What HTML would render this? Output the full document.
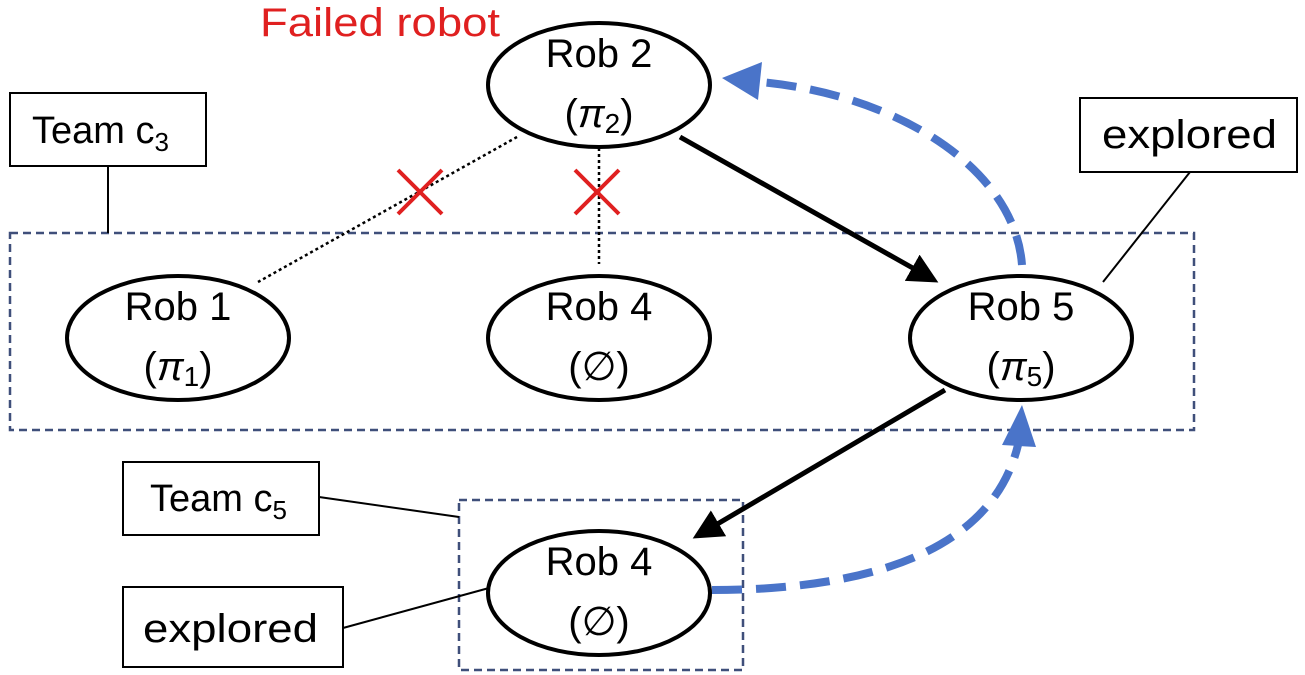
<!DOCTYPE html>
<html><head><meta charset="utf-8"><style>
html,body{margin:0;padding:0;background:#fff;}
svg{display:block;font-family:"Liberation Sans","DejaVu Sans",sans-serif;}
</style></head><body>
<svg width="1305" height="675" viewBox="0 0 1305 675" xmlns="http://www.w3.org/2000/svg">
<defs>
<marker id="ab" markerWidth="6" markerHeight="6" refX="5" refY="3" orient="auto" markerUnits="strokeWidth"><path d="M0,0 L6,3 L0,6 z" fill="#000"/></marker>
</defs>
<rect x="10" y="233" width="1184" height="197" fill="none" stroke="#3f4f7a" stroke-width="2.5" stroke-dasharray="8,5"/>
<rect x="459" y="500" width="284" height="170" fill="none" stroke="#3f4f7a" stroke-width="2.5" stroke-dasharray="8,5"/>
<rect x="10" y="93" width="196" height="73" fill="#fff" stroke="#000" stroke-width="2"/>
<text x="32" y="143" font-size="38">Team  c<tspan font-size="26" dy="8">3</tspan></text>
<line x1="108" y1="166" x2="108" y2="233" stroke="#000" stroke-width="2"/>
<rect x="1080" y="98" width="217" height="74" fill="#fff" stroke="#000" stroke-width="2"/>
<text x="1102" y="148" font-size="40" textLength="175" lengthAdjust="spacingAndGlyphs">explored</text>
<line x1="1190" y1="172" x2="1103" y2="282" stroke="#000" stroke-width="2"/>
<rect x="123" y="462" width="196" height="73" fill="#fff" stroke="#000" stroke-width="2"/>
<text x="150" y="511" font-size="38">Team c<tspan font-size="26" dy="8">5</tspan></text>
<line x1="319" y1="497" x2="459" y2="517" stroke="#000" stroke-width="2"/>
<rect x="123" y="587" width="220" height="80" fill="#fff" stroke="#000" stroke-width="2"/>
<text x="143" y="642" font-size="40" textLength="175" lengthAdjust="spacingAndGlyphs">explored</text>
<line x1="343" y1="628" x2="489" y2="588" stroke="#000" stroke-width="2"/>
<text x="260" y="36" font-size="40" fill="#e02020" textLength="240" lengthAdjust="spacingAndGlyphs">Failed robot</text>
<line x1="517" y1="137" x2="258" y2="282" stroke="#000" stroke-width="2.5" stroke-dasharray="3,3"/>
<line x1="599" y1="148" x2="599" y2="264" stroke="#000" stroke-width="2.5" stroke-dasharray="3,3"/>
<g stroke="#e02020" stroke-width="4">
<line x1="398" y1="170" x2="442" y2="214"/><line x1="442" y1="170" x2="398" y2="214"/>
<line x1="575" y1="170" x2="619" y2="214"/><line x1="619" y1="170" x2="575" y2="214"/>
</g>
<line x1="680" y1="137" x2="934" y2="280" stroke="#000" stroke-width="5" marker-end="url(#ab)"/>
<line x1="945" y1="390" x2="697" y2="536" stroke="#000" stroke-width="5" marker-end="url(#ab)"/>
<path d="M1022,265 C1015,170 900,95 760,82" fill="none" stroke="#4a74c9" stroke-width="8" stroke-dasharray="30,14"/>
<polygon points="722,78 762,62 758,100" fill="#4a74c9"/>
<path d="M712,590 C850,590 990,560 1018,445" fill="none" stroke="#4a74c9" stroke-width="8" stroke-dasharray="30,14"/>
<polygon points="1022,405 1002,445 1036,447" fill="#4a74c9"/>
<g fill="#fff" stroke="#000" stroke-width="4">
<ellipse cx="599" cy="85" rx="111" ry="62"/>
<ellipse cx="178" cy="338" rx="111" ry="62"/>
<ellipse cx="599" cy="338" rx="111" ry="62"/>
<ellipse cx="1021" cy="338" rx="111" ry="62"/>
<ellipse cx="599" cy="593" rx="111" ry="62"/>
</g>
<g font-size="40" text-anchor="middle">
<text x="599" y="67">Rob 2</text><text x="599" y="127">(<tspan font-style="italic">π</tspan><tspan font-size="28" dy="6">2</tspan><tspan dy="-6">)</tspan></text>
<text x="178" y="320">Rob 1</text><text x="178" y="380">(<tspan font-style="italic">π</tspan><tspan font-size="28" dy="6">1</tspan><tspan dy="-6">)</tspan></text>
<text x="599" y="320">Rob 4</text><text x="599" y="380">(∅)</text>
<text x="1021" y="320">Rob 5</text><text x="1021" y="380">(<tspan font-style="italic">π</tspan><tspan font-size="28" dy="6">5</tspan><tspan dy="-6">)</tspan></text>
<text x="599" y="575">Rob 4</text><text x="599" y="635">(∅)</text>
</g>
</svg>
</body></html>
